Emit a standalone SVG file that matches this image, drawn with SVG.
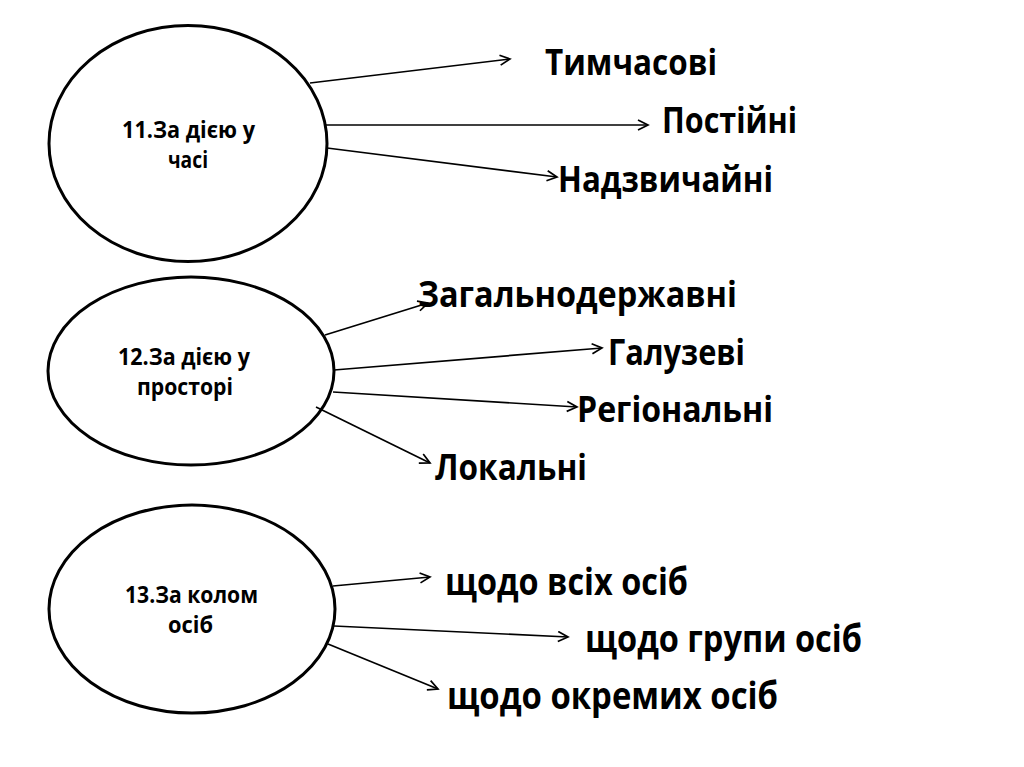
<svg xmlns="http://www.w3.org/2000/svg" width="1024" height="767" viewBox="0 0 1024 767">
<style>
.node ellipse{fill:#fff;stroke:#000;stroke-width:3}
.ntext{font-family:"Open Sans","Liberation Sans",sans-serif;font-weight:bold;font-size:22.5px;fill:#000}
.label{font-family:"Open Sans","Liberation Sans",sans-serif;font-weight:bold;font-size:35px;fill:#000}
.label3{font-family:"Open Sans","Liberation Sans",sans-serif;font-weight:bold;font-size:37px;fill:#000}
.conn line{stroke:#000;stroke-width:1.7;fill:none;marker-end:url(#arr)}
</style>
<defs>
<marker id="arr" markerUnits="userSpaceOnUse" markerWidth="14" markerHeight="14" refX="11" refY="6" orient="auto">
<path d="M1,1 L11,6 L1,11" fill="none" stroke="#000" stroke-width="1.7"/>
</marker>
</defs>
<rect width="1024" height="767" fill="#fff"/>
<g id="n11" class="node">
<ellipse cx="188" cy="143.5" rx="139" ry="118"/>
<text class="ntext" x="122" y="138" textLength="133" lengthAdjust="spacingAndGlyphs">11.За дією у</text>
<text class="ntext" x="168" y="168" textLength="40" lengthAdjust="spacingAndGlyphs">часі</text>
</g>
<g id="n12" class="node">
<ellipse cx="191" cy="371" rx="143" ry="94"/>
<text class="ntext" x="118" y="365" textLength="132" lengthAdjust="spacingAndGlyphs">12.За дією у</text>
<text class="ntext" x="137" y="395" textLength="96" lengthAdjust="spacingAndGlyphs">просторі</text>
</g>
<g id="n13" class="node">
<ellipse cx="192" cy="609" rx="143" ry="104"/>
<text class="ntext" x="125" y="603" textLength="133" lengthAdjust="spacingAndGlyphs">13.За колом</text>
<text class="ntext" x="168" y="633" textLength="45" lengthAdjust="spacingAndGlyphs">осіб</text>
</g>
<g id="connectors" class="conn">
<line x1="310" y1="83" x2="510" y2="59"/>
<line x1="326" y1="125" x2="648" y2="125"/>
<line x1="327" y1="148" x2="557" y2="177"/>
<line x1="325" y1="335" x2="428" y2="303"/>
<line x1="334" y1="370" x2="602" y2="348"/>
<line x1="333" y1="392" x2="577" y2="407"/>
<line x1="316" y1="407" x2="430" y2="463"/>
<line x1="333" y1="586" x2="430" y2="577"/>
<line x1="334" y1="626" x2="568" y2="637"/>
<line x1="328" y1="644" x2="438" y2="689"/>
</g>
<g id="labels">
<text id="t1" class="label" x="545" y="75" textLength="172" lengthAdjust="spacingAndGlyphs">Тимчасові</text>
<text id="t2" class="label" x="662" y="133" textLength="135" lengthAdjust="spacingAndGlyphs">Постійні</text>
<text id="t3" class="label" x="558" y="192" textLength="215" lengthAdjust="spacingAndGlyphs">Надзвичайні</text>
<text id="t4" class="label" x="418" y="307" textLength="319" lengthAdjust="spacingAndGlyphs">Загальнодержавні</text>
<text id="t5" class="label" x="608" y="365" textLength="137" lengthAdjust="spacingAndGlyphs">Галузеві</text>
<text id="t6" class="label" x="577" y="422" textLength="196" lengthAdjust="spacingAndGlyphs">Регіональні</text>
<text id="t7" class="label" x="435" y="480" textLength="152" lengthAdjust="spacingAndGlyphs">Локальні</text>
<text id="t8" class="label3" x="445" y="595" textLength="243" lengthAdjust="spacingAndGlyphs">щодо всіх осіб</text>
<text id="t9" class="label3" x="585" y="652" textLength="277" lengthAdjust="spacingAndGlyphs">щодо групи осіб</text>
<text id="t10" class="label3" x="447" y="709" textLength="331" lengthAdjust="spacingAndGlyphs">щодо окремих осіб</text>
</g>
</svg>
